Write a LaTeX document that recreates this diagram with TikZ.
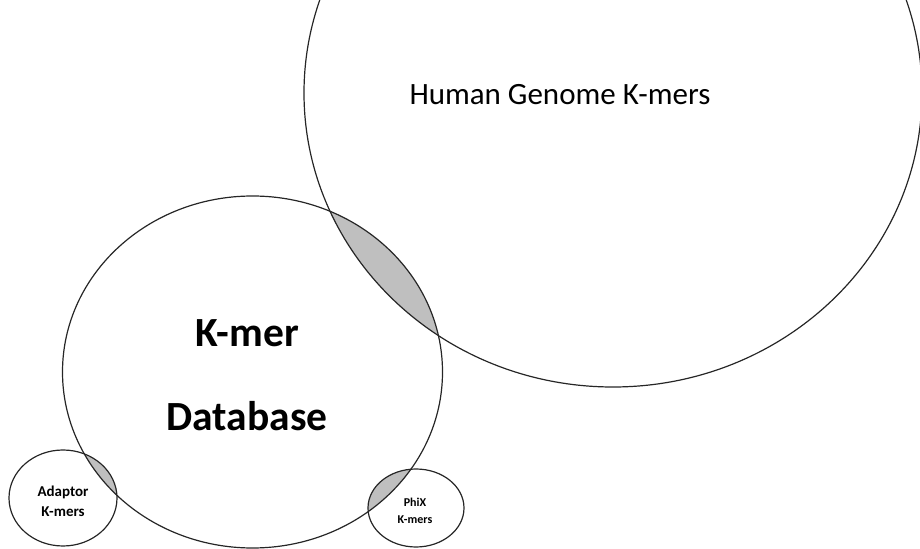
\documentclass[tikz,border=0pt]{standalone}
\usepackage{fontspec}
\setmainfont{Carlito}
\usetikzlibrary{shapes}

\tikzset{ring/.style={draw=black!85,line width=1.2bp},
  overlap/.style={fill=black!25}}

\begin{document}
\begin{tikzpicture}[line join=bevel,]
%%
\useasboundingbox (0bp,0bp) rectangle (920bp,549bp);
\begin{scope}
  \clip (252.5bp,177bp) ellipse [x radius=190bp,y radius=176bp];
  \fill [overlap] (613bp,456bp) ellipse [x radius=309bp,y radius=294bp];
  \fill [overlap] (63bp,51bp) ellipse [x radius=54bp,y radius=48bp];
  \fill [overlap] (416bp,41bp) ellipse [x radius=48bp,y radius=39bp];
\end{scope}
\draw [ring] (613bp,456bp) ellipse [x radius=309bp,y radius=294bp];
\draw [ring] (252.5bp,177bp) ellipse [x radius=190bp,y radius=176bp];
\draw [ring] (63bp,51bp) ellipse [x radius=54bp,y radius=48bp];
\draw [ring] (416bp,41bp) ellipse [x radius=48bp,y radius=39bp];
%
\node (node_human) at (560bp,454bp) [draw=none,font=\fontsize{31bp}{36bp}\selectfont] {Human Genome K-mers};
  \node (node_kmer) at (247bp,215.5bp) [draw=none,font=\fontsize{41.5bp}{44bp}\selectfont\bfseries] {K-mer};
  \node (node_db) at (247bp,133bp) [draw=none,font=\fontsize{41.5bp}{44bp}\selectfont\bfseries] {Database};
  \node (node_adaptor) at (63bp,48bp) [draw=none,align=center,font=\fontsize{15bp}{20bp}\selectfont\bfseries] {Adaptor\\K-mers};
  \node (node_phix) at (415bp,38bp) [draw=none,align=center,font=\fontsize{12bp}{17bp}\selectfont\bfseries] {PhiX\\K-mers};
%
\end{tikzpicture}
\end{document}
